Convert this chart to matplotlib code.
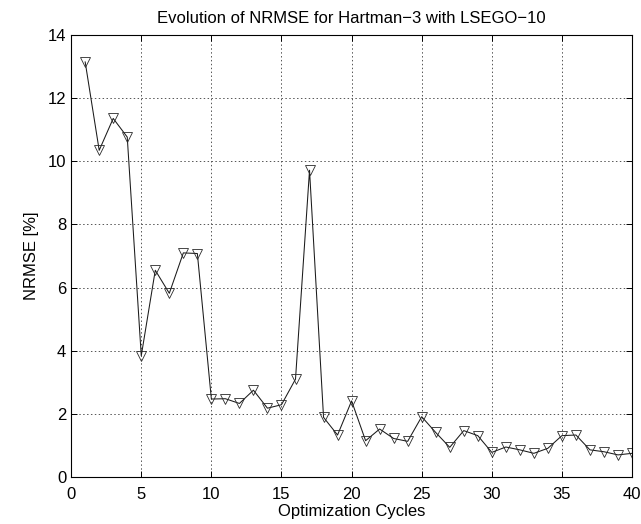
import matplotlib
matplotlib.use("Agg")
import matplotlib.pyplot as plt

plt.rcParams['font.family'] = ['Liberation Sans', 'DejaVu Sans']

cycles = list(range(1, 41))
nrmse = [13.15, 10.35, 11.36, 10.77, 3.84, 6.55, 5.82, 7.10, 7.08, 2.47,
         2.48, 2.33, 2.75, 2.18, 2.29, 3.10, 9.72, 1.89, 1.33, 2.41,
         1.15, 1.52, 1.22, 1.13, 1.91, 1.41, 0.94, 1.47, 1.31, 0.78,
         0.95, 0.86, 0.75, 0.91, 1.31, 1.33, 0.86, 0.80, 0.70, 0.75]

xticks = [0, 5, 10, 15, 20, 25, 30, 35, 40]
yticks = [0, 2, 4, 6, 8, 10, 12, 14]

fig = plt.figure(figsize=(6.41, 5.24), dpi=100)
ax = fig.add_axes([0.111, 0.0897, 0.875, 0.8433])

ax.plot(cycles, nrmse, color='#1a1a1a', linewidth=0.75,
        marker='v', markersize=7.5, markerfacecolor='none',
        markeredgecolor='#2a2a2a', markeredgewidth=0.6)

ax.set_xlim(0, 40)
ax.set_ylim(0, 14)
ax.set_xticks(xticks)
ax.set_yticks(yticks)
ax.grid(True, color='#555555', linestyle=(0, (1.5, 2.5)), linewidth=0.7)
ax.tick_params(direction='in', top=True, right=True, labelsize=12,
               length=4, width=0.7)
ax.tick_params(axis='x', pad=7)
ax.tick_params(axis='y', pad=3.5)
for s in ax.spines.values():
    s.set_linewidth(0.8)
    s.set_color('black')

ax.set_xlabel('Optimization Cycles', fontsize=12)
ax.xaxis.label.set_verticalalignment('baseline')
ax.xaxis.set_label_coords(0.5, -0.088)
ax.set_ylabel('NRMSE [%]', fontsize=12)
ax.yaxis.set_label_coords(-0.057, 0.5)
ax.set_title('Evolution of NRMSE for Hartman\u22123 with LSEGO\u221210',
             fontsize=12, pad=9)

fig.savefig('out.png', dpi=100)
